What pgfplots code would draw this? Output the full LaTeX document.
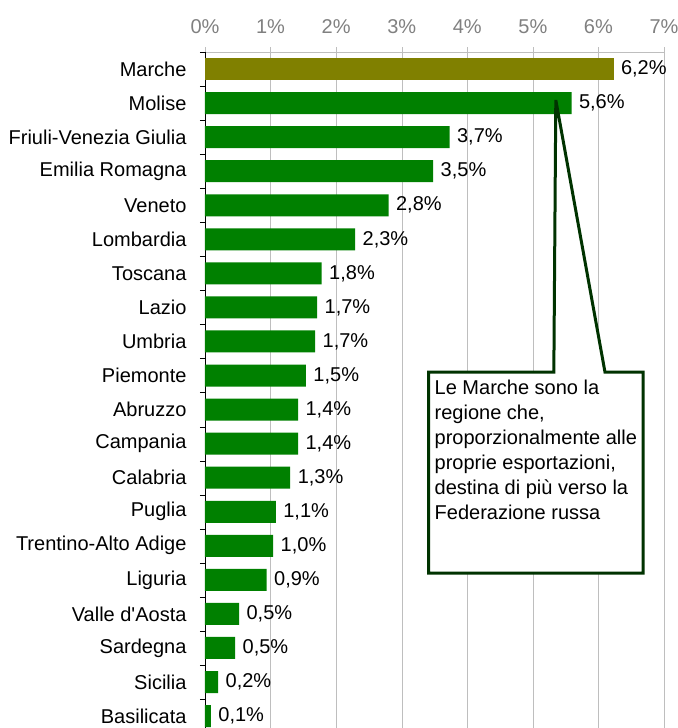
\documentclass[border=0pt]{standalone}
\usepackage{pgfplots}
\pgfplotsset{compat=1.18}
\usepackage{fontspec}
\setmainfont{Liberation Sans}
\usetikzlibrary{calc}
\definecolor{barverde}{RGB}{0,128,0}
\definecolor{barolive}{RGB}{128,128,0}
\definecolor{boxverde}{RGB}{0,51,0}
\definecolor{tickgray}{RGB}{128,128,128}
\definecolor{gridgray}{RGB}{190,190,190}
\begin{document}
\begin{tikzpicture}[font=\fontsize{20bp}{25bp}\selectfont]
\begin{axis}[
  name=ax,
  xbar, bar shift=0pt, bar width=22bp,
  scale only axis, width=459bp, height=676bp,
  xmin=0, xmax=7, ymin=-0.5, ymax=19.35,
  y dir=reverse,
  axis x line*=top, axis y line*=left,
  x axis line style={gridgray,-},
  y axis line style={black,-},
  tick align=outside,
  major tick length=5bp, minor tick length=5bp,
  xtick={0,...,7},
  xmajorgrids, grid style={gridgray},
  x tick style={gridgray},
  /pgf/number format/assume math mode=true,
  xticklabel={\pgfmathprintnumber{\tick}\%},
  xticklabel style={tickgray, yshift=10bp},
  ytick={0,...,19},
  yticklabels={Marche,Molise,Friuli-Venezia Giulia,Emilia Romagna,Veneto,Lombardia,Toscana,Lazio,Umbria,Piemonte,Abruzzo,Campania,Calabria,Puglia,Trentino-Alto Adige,Liguria,Valle d\textquotesingle Aosta,Sardegna,Sicilia,Basilicata},
  minor ytick={-0.5,0.5,...,18.5},
  major y tick style={draw=none},
  minor y tick style={black},
  yticklabel style={xshift=-10bp},
  point meta=x,
  nodes near coords={\pgfmathprintnumber[fixed,zerofill,precision=1,use comma]{\pgfplotspointmeta}\%},
  nodes near coords style={anchor=west, black, xshift=4bp},
]
\addplot[fill=barolive, draw=none] coordinates {(6.23,0)};
\addplot[fill=barverde, draw=none] coordinates {
(5.59,1) (3.73,2) (3.48,3) (2.80,4) (2.29,5) (1.78,6) (1.71,7) (1.68,8) (1.54,9)
(1.42,10) (1.42,11) (1.30,12) (1.08,13) (1.04,14) (0.94,15) (0.52,16) (0.46,17)
(0.20,18) (0.09,19)};
\draw[boxverde, line width=3bp, fill=white, line join=miter]
  (axis cs:3.41,8.90) -- (axis cs:5.32,8.90) -- (axis cs:5.35,0.91) -- (axis cs:6.10,8.90)
  -- (axis cs:6.68,8.90) -- (axis cs:6.68,14.80) -- (axis cs:3.41,14.80) -- cycle;
\node[anchor=north west, align=left, inner sep=0pt] at (axis cs:3.50,9.13)
  {Le Marche sono la\\regione che,\\proporzionalmente alle\\proprie esportazioni,\\destina di più verso la\\Federazione russa};
\end{axis}
\pgfresetboundingbox
\path[use as bounding box] ($(ax.south west)+(-205bp,0)$) rectangle ($(ax.north east)+(14bp,52bp)$);
\end{tikzpicture}
\end{document}
